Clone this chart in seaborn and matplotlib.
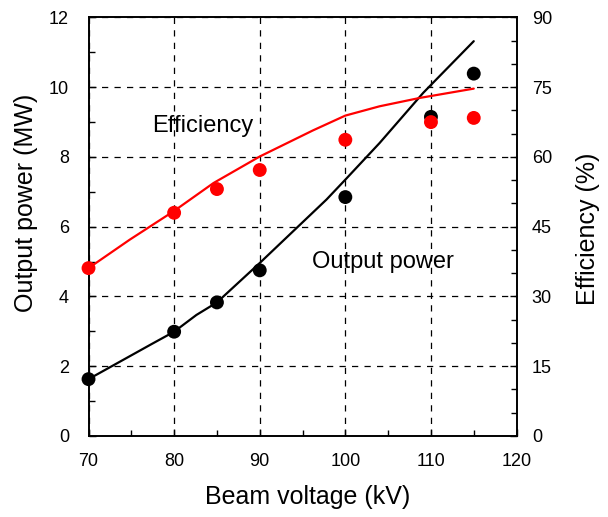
import matplotlib
matplotlib.use("Agg")
import matplotlib.pyplot as plt
import seaborn as sns
import pandas as pd
from matplotlib.ticker import MultipleLocator

# Measured data points
voltage_pts = [70, 80, 85, 90, 100, 110, 115]
power_pts = [1.63, 2.99, 3.83, 4.75, 6.85, 9.15, 10.39]
eff_pts = [36.1, 48.0, 53.1, 57.2, 63.7, 67.5, 68.4]

# Simulation curves
power_line_v = [70, 77.4, 80, 82.6, 85, 90, 97.8, 100, 104, 109.1, 115]
power_line_y = [1.63, 2.64, 2.99, 3.47, 3.83, 4.96, 6.78, 7.35, 8.40, 9.84, 11.32]
eff_line_v = [70, 74.8, 80, 84.6, 90, 96.2, 100, 104, 108.7, 115]
eff_line_y = [36.1, 42.2, 48.4, 54.4, 60.1, 65.7, 68.9, 70.9, 72.7, 74.7]

sns.set_style("ticks")
plt.rcParams['font.family'] = ['Liberation Sans', 'DejaVu Sans']
plt.rcParams['text.color'] = 'black'
plt.rcParams['axes.labelcolor'] = 'black'
plt.rcParams['xtick.color'] = 'black'
plt.rcParams['ytick.color'] = 'black'

fig = plt.figure(figsize=(6.08, 5.17), dpi=100)
ax = fig.add_axes([0.1456, 0.1567, 0.704, 0.8095])
ax2 = ax.twinx()

df_pl = pd.DataFrame({"v": power_line_v, "p": power_line_y})
df_pp = pd.DataFrame({"v": voltage_pts, "p": power_pts, "e": eff_pts})
df_el = pd.DataFrame({"v": eff_line_v, "e": eff_line_y})

sns.lineplot(data=df_pl, x="v", y="p", ax=ax, color="black", lw=1.6, zorder=3)
sns.scatterplot(data=df_pp, x="v", y="p", ax=ax, color="black", s=100,
                edgecolor="none", zorder=4, clip_on=False)

sns.lineplot(data=df_el, x="v", y="e", ax=ax2, color="red", lw=1.6, zorder=3)
sns.scatterplot(data=df_pp, x="v", y="e", ax=ax2, color="red", s=100,
                edgecolor="none", zorder=4, clip_on=False)

ax.set_xlim(70, 120)
ax.set_ylim(0, 12)
ax2.set_ylim(0, 90)

ax.xaxis.set_major_locator(MultipleLocator(10))
ax.xaxis.set_minor_locator(MultipleLocator(5))
ax.yaxis.set_major_locator(MultipleLocator(2))
ax.yaxis.set_minor_locator(MultipleLocator(1))
ax2.yaxis.set_major_locator(MultipleLocator(15))
ax2.yaxis.set_minor_locator(MultipleLocator(5))

ax.grid(True, which="major", color="black", linestyle=(0, (5, 5)), lw=0.9)
ax.set_axisbelow(True)

ax.tick_params(axis="both", which="major", direction="in", length=5, width=1,
               labelsize=13, color="black", labelcolor="black")
ax.tick_params(axis="both", which="minor", direction="in", length=4, width=1,
               color="black")
ax.tick_params(axis="x", which="major", pad=12)
ax.tick_params(axis="y", which="major", pad=14)
ax2.tick_params(axis="y", which="major", direction="in", length=5, width=1,
                labelsize=13, pad=11, color="black", labelcolor="black")
ax2.tick_params(axis="y", which="minor", direction="in", length=4, width=1,
                color="black")

for a in (ax, ax2):
    for s in a.spines.values():
        s.set_visible(True)
        s.set_color("black")
        s.set_linewidth(1.2)

ax.set_xlabel("Beam voltage (kV)", fontsize=18, color="black")
ax.set_ylabel("Output power (MW)", fontsize=18, color="black")
ax2.set_ylabel("Efficiency (%)", fontsize=18, color="black")

ax.xaxis.label.set_va("center")
ax.xaxis.set_label_coords(0.512, -0.146)
ax.yaxis.label.set_va("center")
ax.yaxis.set_label_coords(-0.146, 0.557)
ax2.yaxis.label.set_va("center")
ax2.yaxis.set_label_coords(1.168, 0.495)

ax.text(83.4, 8.9, "Efficiency", fontsize=17, ha="center", va="center",
        color="black")
ax.text(104.4, 5.0, "Output power", fontsize=17, ha="center", va="center",
        color="black")

ax2.set_zorder(ax.get_zorder() + 1)
ax2.patch.set_visible(False)

fig.savefig("out.png", dpi=100)
